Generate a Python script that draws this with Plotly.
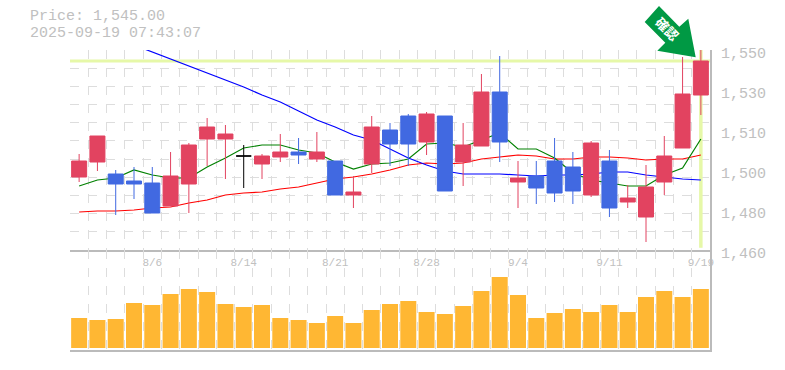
import plotly.graph_objects as go

W, H = 785, 370
PX_LEFT, PX_RIGHT = 70, 710
PX_TOP, PX_MID, PX_BOTTOM = 50, 250, 350

price_now = 1545.0
title_price = "Price: 1,545.00"
title_time = "2025-09-19 07:43:07"

date_idx = [4, 9, 14, 19, 24, 29, 34]
date_labels = ["8/6", "8/14", "8/21", "8/28", "9/4", "9/11", "9/19"]
price_ticks = [1550, 1532, 1514, 1496, 1478, 1460]
price_labels = ["1,550", "1,530", "1,510", "1,500", "1,480", "1,460"]

def p(y):
    return round(1460 + (250 - y) * 0.45, 2)

# y readings (picture pixels), converted to prices by p()
opens_px = [177,162,174,181,183,206,184,139,139,156,164,157,152,159,161,195,164,130,116,142,116,162,146,92,182,176,161,167,195,161,202,217,182,148,95]
closes_px = [161,136,184,184,213,176,145,127,134,156,156,152,155,152,195,192,127,144,144,114,191,145,92,142,178,188,193,191,143,208,198,187,156,94,61]
highs_px = [154,136,170,167,167,152,143,118,125,145,154,134,138,132,161,176,116,123,114,112,116,123,74,56,161,161,138,152,141,150,185,165,136,57,50]
lows_px = [182,171,215,199,213,206,213,166,179,188,179,162,164,162,195,208,173,166,166,155,191,186,146,162,208,204,202,204,197,217,208,242,195,148,115]

opens = [p(v) for v in opens_px]
closes = [p(v) for v in closes_px]
highs = [p(v) for v in highs_px]
lows = [p(v) for v in lows_px]

ma_short_px = [186,180,178,170,175,178,178,167,158,148,145,145,150,153,162,169,164,163,159,144,143,147,140,133,149,149,158,173,180,183,186,186,175,168,139]
ma_mid_px = [212,211,211,210,208,207,203,200,195,193,192,189,187,183,179,177,174,170,165,163,164,163,159,157,155,156,159,159,157,157,158,160,159,159,155]
ma_long_px = [45,52,59,66,73,80,87,95,102,111,120,127,135,140,149,158,165,171,174,174,174,175,176,175,175,174,172,172,175,177,179,180]
ma_short = [p(v) for v in ma_short_px]
ma_mid = [p(v) for v in ma_mid_px]
ma_long = [p(v) for v in ma_long_px]

volume = [30,28,29,45,43,54,59,56,44,41,43,30,28,25,32,25,38,44,47,36,34,42,57,71,53,30,35,39,36,43,36,51,57,51,59]

n = len(volume)
xs = list(range(n))
grid_x = [i - 0.5 for i in range(n + 1)]
grid_y = [1460 + i * 90 / 11 for i in range(12)]

RED, BLUE, BLACK = "#e24360", "#4169e1", "#000000"
GRID, AXIS, TEXT = "#dddddd", "#bbbbbb", "#c0c0c0"
HILITE = "#e6f8a8"
FONT = "Liberation Mono"

fig = go.Figure()

# reference levels and moving averages sit under the candles
fig.add_trace(go.Scatter(x=[-0.5, n - 0.5], y=[price_now, price_now], mode="lines",
                         line=dict(color=HILITE, width=3), hoverinfo="skip", showlegend=False))
fig.add_trace(go.Scatter(x=[n - 1, n - 1], y=[1461, 1550], mode="lines",
                         line=dict(color=HILITE, width=3.5), hoverinfo="skip", showlegend=False))
fig.add_trace(go.Scatter(x=xs, y=ma_mid, mode="lines", line=dict(color="#ff0000", width=1.2), showlegend=False))
fig.add_trace(go.Scatter(x=xs, y=ma_short, mode="lines", line=dict(color="#008000", width=1.2), showlegend=False))
fig.add_trace(go.Scatter(x=xs[3:], y=ma_long, mode="lines", line=dict(color="#0000ff", width=1.2),
                         cliponaxis=False, showlegend=False))

is_doji = [o == c for o, c in zip(opens, closes)]
keep = [i for i in xs if not is_doji[i]]
doji = [i for i in xs if is_doji[i]]
fig.add_trace(go.Candlestick(
    x=keep, open=[opens[i] for i in keep], high=[highs[i] for i in keep],
    low=[lows[i] for i in keep], close=[closes[i] for i in keep],
    increasing=dict(line=dict(color=RED, width=1), fillcolor=RED),
    decreasing=dict(line=dict(color=BLUE, width=1), fillcolor=BLUE),
    whiskerwidth=0, xaxis="x3", yaxis="y3", showlegend=False))
fig.add_trace(go.Candlestick(
    x=doji, open=[opens[i] for i in doji], high=[highs[i] for i in doji],
    low=[lows[i] for i in doji], close=[closes[i] for i in doji],
    increasing=dict(line=dict(color=BLACK, width=1), fillcolor=BLACK),
    decreasing=dict(line=dict(color=BLACK, width=1), fillcolor=BLACK),
    whiskerwidth=0, xaxis="x3", yaxis="y3", showlegend=False))

fig.add_trace(go.Bar(x=xs, y=volume, marker=dict(color="#ffb733", line=dict(width=0)),
                     xaxis="x2", yaxis="y2", showlegend=False))

dom_x = [PX_LEFT / W, PX_RIGHT / W]
dom_price = [1 - PX_MID / H, 1 - PX_TOP / H]
dom_vol = [1 - PX_BOTTOM / H, 1 - PX_MID / H]
x_range = [-0.5, n - 0.5]
grid_style = dict(showgrid=True, gridcolor=GRID, griddash="dash", gridwidth=1)

fig.update_layout(
    width=W, height=H, autosize=False,
    margin=dict(l=0, r=0, t=0, b=0, pad=0, autoexpand=False),
    paper_bgcolor="white", plot_bgcolor="white",
    bargap=0.125, boxgap=0.18, boxgroupgap=0, boxmode="overlay",
    xaxis=dict(domain=dom_x, range=x_range, tickvals=date_idx, ticktext=date_labels,
               showgrid=False, zeroline=False, showline=True, linecolor=AXIS, linewidth=2,
               ticks="", ticklabelstandoff=1, tickfont=dict(family=FONT, size=11, color=TEXT),
               minor=dict(tickvals=grid_x, ticks="", **grid_style),
               rangeslider=dict(visible=False), anchor="y"),
    yaxis=dict(domain=dom_price, range=[1460, 1550], side="right", tickvals=price_ticks,
               ticktext=price_labels, showgrid=False, zeroline=False, showline=True,
               linecolor=AXIS, linewidth=2, ticks="", ticklabelstandoff=6, ticklabelshift=3,
               tickfont=dict(family=FONT, size=15, color=TEXT),
               minor=dict(tickvals=grid_y, ticks="", **grid_style),
               anchor="x"),
    xaxis2=dict(domain=dom_x, range=x_range, showticklabels=False, showgrid=False, zeroline=False,
                showline=True, linecolor=AXIS, linewidth=2, ticks="",
                minor=dict(tickvals=grid_x, ticks="", **grid_style), anchor="y2"),
    yaxis2=dict(domain=dom_vol, range=[-2, 98], side="right", showticklabels=False, showgrid=False,
                zeroline=False, showline=True, linecolor=AXIS, linewidth=2, ticks="", anchor="x2"),
    xaxis3=dict(overlaying="x", range=x_range, visible=False, rangeslider=dict(visible=False), anchor="y3"),
    yaxis3=dict(overlaying="y", range=[1460, 1550], visible=False, anchor="x3"),
    shapes=[dict(type="path", xref="paper", yref="paper", fillcolor="#009944", line=dict(width=0), layer="above",
                 path="M {} {} ".format(659 / W, 1 - 6 / H)
                      + " ".join("L {} {}".format(a / W, 1 - b / H) for a, b in
                                 [(644.7, 22), (665.3, 42.7), (657.3, 50.7), (695.7, 57.3), (688.3, 18.7), (679.3, 26.7)])
                      + " Z")],
    annotations=[
        dict(text=title_price, x=28 / W, y=1 - 17 / H, xref="paper", yref="paper", xanchor="left", yanchor="middle",
             showarrow=False, font=dict(family=FONT, size=15, color=TEXT)),
        dict(text=title_time, x=28 / W, y=1 - 34 / H, xref="paper", yref="paper", xanchor="left", yanchor="middle",
             showarrow=False, font=dict(family=FONT, size=15, color=TEXT)),
        dict(text="確認", x=667 / W, y=1 - 29 / H, xref="paper", yref="paper", xanchor="center", yanchor="middle",
             textangle=45, showarrow=False,
             font=dict(family="Noto Sans CJK JP", size=13, color="white", weight="bold")),
    ],
)

fig.write_html("out.html", config=dict(displayModeBar=False),
               post_script="document.body.style.margin='0';")
